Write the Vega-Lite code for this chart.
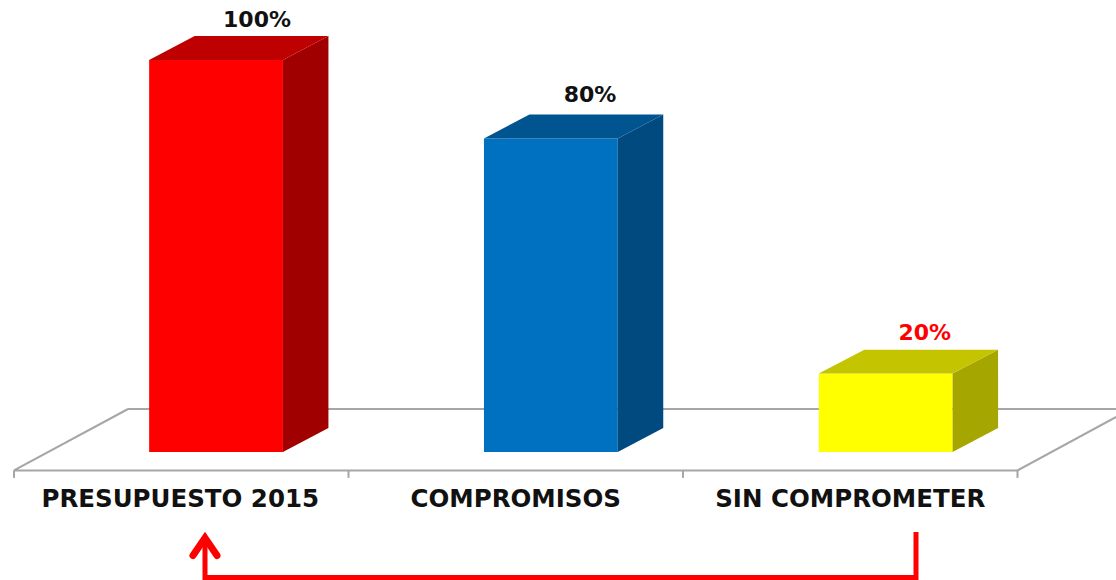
{"$schema":"https://vega.github.io/schema/vega-lite/v6.json","width":1116,"height":580,"padding":0,"autosize":{"type":"none"},"background":"white","config":{"view":{"stroke":null}},
"datasets":{
"faces":[
{"id":"r-front","face":"red front","x":0.404,"low":0,"high":100},{"id":"r-front","face":"red front","x":0.804,"low":0,"high":100},
{"id":"r-side","face":"red side","x":0.804,"low":0,"high":100},{"id":"r-side","face":"red side","x":0.94,"low":6.1,"high":106.1},
{"id":"r-top","face":"red top","x":0.404,"low":100,"high":100},{"id":"r-top","face":"red top","x":0.54,"low":100,"high":106.1},{"id":"r-top","face":"red top","x":0.804,"low":100,"high":106.1},{"id":"r-top","face":"red top","x":0.94,"low":106.1,"high":106.1},
{"id":"b-front","face":"blue front","x":1.405,"low":0,"high":80},{"id":"b-front","face":"blue front","x":1.805,"low":0,"high":80},
{"id":"b-side","face":"blue side","x":1.805,"low":0,"high":80},{"id":"b-side","face":"blue side","x":1.941,"low":6.1,"high":86.1},
{"id":"b-top","face":"blue top","x":1.405,"low":80,"high":80},{"id":"b-top","face":"blue top","x":1.541,"low":80,"high":86.1},{"id":"b-top","face":"blue top","x":1.805,"low":80,"high":86.1},{"id":"b-top","face":"blue top","x":1.941,"low":86.1,"high":86.1},
{"id":"y-front","face":"yellow front","x":2.406,"low":0,"high":20},{"id":"y-front","face":"yellow front","x":2.806,"low":0,"high":20},
{"id":"y-side","face":"yellow side","x":2.806,"low":0,"high":20},{"id":"y-side","face":"yellow side","x":2.942,"low":6.1,"high":26.1},
{"id":"y-top","face":"yellow top","x":2.406,"low":20,"high":20},{"id":"y-top","face":"yellow top","x":2.542,"low":20,"high":26.1},{"id":"y-top","face":"yellow top","x":2.806,"low":20,"high":26.1},{"id":"y-top","face":"yellow top","x":2.942,"low":26.1,"high":26.1}
],
"floor":[
{"id":"front","ord":1,"x":0.341,"y":10.97},{"id":"front","ord":2,"x":0,"y":-4.7},{"id":"front","ord":3,"x":3,"y":-4.7},{"id":"front","ord":4,"x":3.295,"y":8.93},
{"id":"back","ord":1,"x":0.341,"y":10.97},{"id":"back","ord":2,"x":3.295,"y":10.97},
{"id":"t0","ord":1,"x":0,"y":-4.7},{"id":"t0","ord":2,"x":0,"y":-6.6},
{"id":"t1","ord":1,"x":1,"y":-4.7},{"id":"t1","ord":2,"x":1,"y":-6.6},
{"id":"t2","ord":1,"x":2,"y":-4.7},{"id":"t2","ord":2,"x":2,"y":-6.6},
{"id":"t3","ord":1,"x":3,"y":-4.7},{"id":"t3","ord":2,"x":3,"y":-6.6}
],
"shaft":[
{"ord":1,"x":2.6966,"y":-20.4},{"ord":2,"x":2.6966,"y":-32},{"ord":3,"x":0.571,"y":-32},{"ord":4,"x":0.571,"y":-22.5}
],
"head":[
{"ord":1,"x":0.5351,"y":-26.4},{"ord":2,"x":0.571,"y":-21.9},{"ord":3,"x":0.6069,"y":-26.4}
],
"categories":[{"name":"PRESUPUESTO 2015","x":0.497,"y":-12.3},{"name":"COMPROMISOS","x":1.5,"y":-12.3},{"name":"SIN COMPROMETER","x":2.5,"y":-12.3}],
"values":[{"label":"100%","x":0.7265,"y":110.2,"tone":"dark"},{"label":"80%","x":1.722,"y":91,"tone":"dark"},{"label":"20%","x":2.723,"y":30.4,"tone":"alert"}]
},
"layer":[
{"data":{"name":"floor"},"mark":{"type":"line","stroke":"#a6a6a6","strokeWidth":2,"interpolate":"linear"},"encoding":{"x":{"field":"x","type":"quantitative","scale":{"domain":[-0.04185,3.2945],"nice":false,"zero":false},"axis":null},"y":{"field":"y","type":"quantitative","scale":{"domain":[-32.65,115.3],"nice":false,"zero":false},"axis":null},"detail":{"field":"id"},"order":{"field":"ord"}}},
{"data":{"name":"faces"},"mark":{"type":"area","interpolate":"linear","opacity":1},"encoding":{"x":{"field":"x","type":"quantitative"},"y":{"field":"low","type":"quantitative"},"y2":{"field":"high"},"detail":{"field":"id"},"color":{"field":"face","type":"nominal","legend":null,"scale":{"domain":["red front","red side","red top","blue front","blue side","blue top","yellow front","yellow side","yellow top"],"range":["#ff0000","#a00000","#bf0000","#0070c0","#004a80","#005490","#ffff00","#a6a600","#c4c400"]}}}},
{"data":{"name":"shaft"},"mark":{"type":"line","stroke":"#ff0000","strokeWidth":5,"strokeJoin":"miter","interpolate":"linear"},"encoding":{"x":{"field":"x","type":"quantitative"},"y":{"field":"y","type":"quantitative"},"order":{"field":"ord"}}},
{"data":{"name":"head"},"mark":{"type":"line","stroke":"#ff0000","strokeWidth":7,"strokeJoin":"miter","strokeCap":"round","interpolate":"linear"},"encoding":{"x":{"field":"x","type":"quantitative"},"y":{"field":"y","type":"quantitative"},"order":{"field":"ord"}}},
{"data":{"name":"categories"},"mark":{"type":"text","font":"DejaVu Sans","fontWeight":"bold","fontSize":24.5,"align":"center","baseline":"middle","fill":"#111111"},"encoding":{"x":{"field":"x","type":"quantitative"},"y":{"field":"y","type":"quantitative"},"text":{"field":"name"}}},
{"data":{"name":"values"},"mark":{"type":"text","font":"DejaVu Sans","fontWeight":"bold","fontSize":22,"align":"center","baseline":"middle"},"encoding":{"x":{"field":"x","type":"quantitative"},"y":{"field":"y","type":"quantitative"},"text":{"field":"label"},"color":{"field":"tone","type":"nominal","legend":null,"scale":{"domain":["dark","alert"],"range":["#111111","#ff0000"]}}}}
],
"resolve":{"scale":{"color":"independent"}}
}
